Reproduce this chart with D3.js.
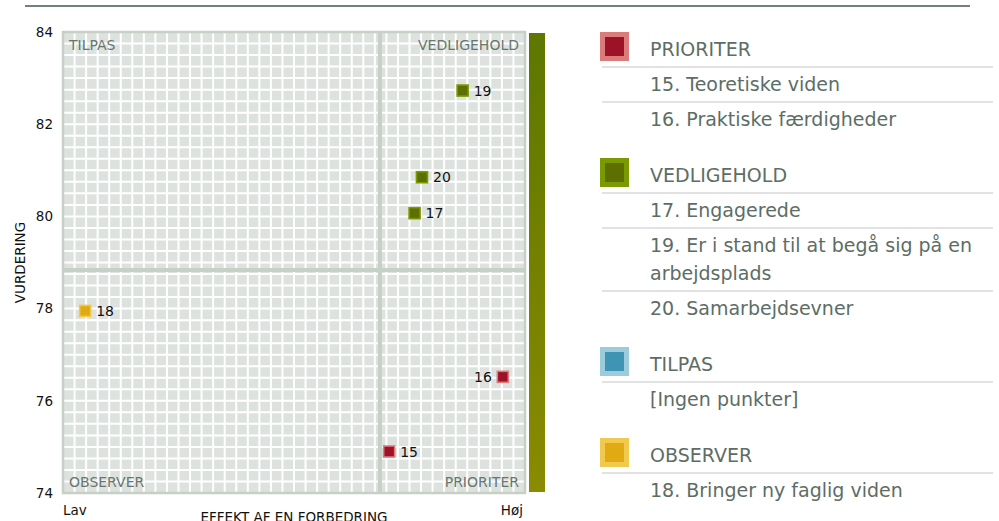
<!DOCTYPE html>
<html>
<head>
<meta charset="utf-8">
<script src="https://cdn.jsdelivr.net/npm/d3@7"></script>
<style>
  body { margin: 0; background: #fff; }
  svg { display: block; font-family: "DejaVu Sans", Verdana, sans-serif; }
</style>
</head>
<body>
<svg id="chart" width="999" height="521"></svg>
<script>
// points in the matrix
var ids = [15, 16, 17, 18, 19, 20];
var effekt = [0.706, 0.952, 0.761, 0.048, 0.865, 0.777];
var vurdering = [74.9, 76.52, 80.07, 77.95, 82.73, 80.85];
var kategori = ["PRIORITER", "PRIORITER", "VEDLIGEHOLD", "OBSERVER", "VEDLIGEHOLD", "VEDLIGEHOLD"];

var yTicks = [74, 76, 78, 80, 82, 84];
var xMid = 0.686, yMid = 78.84;

var groups = ["PRIORITER", "VEDLIGEHOLD", "TILPAS", "OBSERVER"];
var groupItems = [
    [["15. Teoretiske viden"], ["16. Praktiske færdigheder"]],
    [["17. Engagerede"], ["19. Er i stand til at begå sig på en", "arbejdsplads"], ["20. Samarbejdsevner"]],
    [["[Ingen punkter]"]],
    [["18. Bringer ny faglig viden"]]
];
var groupFill = ["#9c1226", "#5c6f00", "#3f94b4", "#dfaa12"];
var groupEdge = ["#dc7b7b", "#7b9900", "#9ccbdc", "#f1c94e"];

var svg = d3.select("#chart");

var pLeft = 63, pRight = 525, pTop = 32, pBottom = 493;

var x = d3.scaleLinear().domain([0, 1]).range([pLeft, pRight]);
var y = d3.scaleLinear().domain([74, 84]).range([pBottom, pTop]);
var color = d3.scaleOrdinal().domain(groups).range(groupFill);
var edge = d3.scaleOrdinal().domain(groups).range(groupEdge);

// top rule
svg.append("line")
    .attr("x1", 25).attr("x2", 970).attr("y1", 6).attr("y2", 6)
    .attr("stroke", "#728279").attr("stroke-width", 2);

// plot background + grid
svg.append("rect")
    .attr("x", pLeft).attr("y", pTop)
    .attr("width", pRight - pLeft).attr("height", pBottom - pTop)
    .attr("fill", "#dde2df");

var gx = d3.scaleLinear().domain([0, 40]).range([pLeft, pRight]);
var gy = d3.scaleLinear().domain([0, 40]).range([pTop, pBottom]);
var grid = svg.append("g").attr("stroke", "#fff").attr("stroke-width", 2);
grid.selectAll(".gv").data(d3.range(1, 40)).enter().append("line")
    .attr("x1", gx).attr("x2", gx).attr("y1", pTop).attr("y2", pBottom);
grid.selectAll(".gh").data(d3.range(1, 40)).enter().append("line")
    .attr("y1", gy).attr("y2", gy).attr("x1", pLeft).attr("x2", pRight);

// dividers
svg.append("line")
    .attr("x1", x(xMid)).attr("x2", x(xMid)).attr("y1", pTop).attr("y2", pBottom)
    .attr("stroke", "#c6d0c7").attr("stroke-width", 4);
svg.append("line")
    .attr("x1", pLeft).attr("x2", pRight).attr("y1", y(yMid)).attr("y2", y(yMid))
    .attr("stroke", "#c6d0c7").attr("stroke-width", 4);

svg.append("rect")
    .attr("x", pLeft).attr("y", pTop)
    .attr("width", pRight - pLeft).attr("height", pBottom - pTop)
    .attr("fill", "none").attr("stroke", "#c6d0c7").attr("stroke-width", 2.5);

// quadrant labels
var qColor = "#67776e";
svg.append("text").attr("x", pLeft + 6).attr("y", pTop + 18).text("TILPAS")
    .attr("font-size", 14).attr("fill", qColor);
svg.append("text").attr("x", pRight - 6).attr("y", pTop + 18).text("VEDLIGEHOLD")
    .attr("font-size", 14).attr("fill", qColor).attr("text-anchor", "end");
svg.append("text").attr("x", pLeft + 6).attr("y", pBottom - 6).text("OBSERVER")
    .attr("font-size", 14).attr("fill", qColor);
svg.append("text").attr("x", pRight - 6).attr("y", pBottom - 6).text("PRIORITER")
    .attr("font-size", 14).attr("fill", qColor).attr("text-anchor", "end");

// y axis
var yAxis = svg.append("g")
    .attr("transform", "translate(" + (pLeft - 10) + ",0)")
    .call(d3.axisLeft(y).tickValues(yTicks).tickSize(0).tickPadding(0));
yAxis.select(".domain").remove();
yAxis.selectAll("text")
    .attr("font-size", 13.5).attr("fill", "#111")
    .attr("font-family", "DejaVu Sans, Verdana, sans-serif");

svg.append("text")
    .attr("transform", "translate(25," + ((pTop + pBottom) / 2) + ") rotate(-90)")
    .attr("text-anchor", "middle").attr("font-size", 13.5).attr("fill", "#111")
    .text("VURDERING");

svg.append("text").attr("x", pLeft).attr("y", 515).text("Lav")
    .attr("font-size", 13.5).attr("fill", "#111");
svg.append("text").attr("x", pRight - 2).attr("y", 515).text("Høj")
    .attr("font-size", 13.5).attr("fill", "#111").attr("text-anchor", "end");
svg.append("text").attr("x", (pLeft + pRight) / 2).attr("y", 522)
    .attr("text-anchor", "middle").attr("font-size", 13.5).attr("fill", "#111")
    .text("EFFEKT AF EN FORBEDRING");

// gradient bar
var grad = svg.append("defs").append("linearGradient")
    .attr("id", "bar").attr("x1", 0).attr("x2", 0).attr("y1", 0).attr("y2", 1);
grad.append("stop").attr("offset", "0%").attr("stop-color", "#5d7700");
grad.append("stop").attr("offset", "100%").attr("stop-color", "#8a8b00");
svg.append("rect")
    .attr("x", 529).attr("y", pTop + 1).attr("width", 16).attr("height", pBottom - pTop - 2)
    .attr("fill", "url(#bar)");

// points
var points = ids.map(function(d, i) {
    return { id: d, x: effekt[i], y: vurdering[i], k: kategori[i] };
});
var pts = svg.selectAll(".pt").data(points).enter().append("g")
    .attr("transform", function(d) { return "translate(" + x(d.x) + "," + y(d.y) + ")"; });
pts.append("rect")
    .attr("x", -5.5).attr("y", -5.5).attr("width", 11).attr("height", 11)
    .attr("fill", function(d) { return color(d.k); })
    .attr("stroke", function(d) { return edge(d.k); })
    .attr("stroke-width", 1.6);
pts.append("text")
    .attr("x", function(d) { return d.x > 0.9 ? -11 : 11; })
    .attr("y", 5)
    .attr("text-anchor", function(d) { return d.x > 0.9 ? "end" : "start"; })
    .attr("font-size", 14).attr("fill", "#111")
    .text(function(d) { return d.id; });

// legend
var legColor = "#5d6d65";
var cy = 56;
groups.forEach(function(g, gi) {
    var lg = svg.append("g");
    lg.append("rect").attr("x", 602.5).attr("y", cy - 21.5).attr("width", 24).attr("height", 24)
        .attr("fill", groupFill[gi]).attr("stroke", groupEdge[gi]).attr("stroke-width", 5);
    lg.append("text").attr("x", 650).attr("y", cy).text(g)
        .attr("font-size", 19).attr("fill", legColor);
    var yy = cy;
    groupItems[gi].forEach(function(lines) {
        lg.append("line").attr("x1", 602).attr("x2", 993)
            .attr("y1", yy + 11).attr("y2", yy + 11)
            .attr("stroke", "#e2e2e2").attr("stroke-width", 2);
        yy += 35;
        lines.forEach(function(t, li) {
            if (li > 0) yy += 28;
            lg.append("text").attr("x", 650).attr("y", yy).text(t)
                .attr("font-size", 19).attr("fill", legColor);
        });
    });
    cy = yy + 56;
});
</script>
</body>
</html>
